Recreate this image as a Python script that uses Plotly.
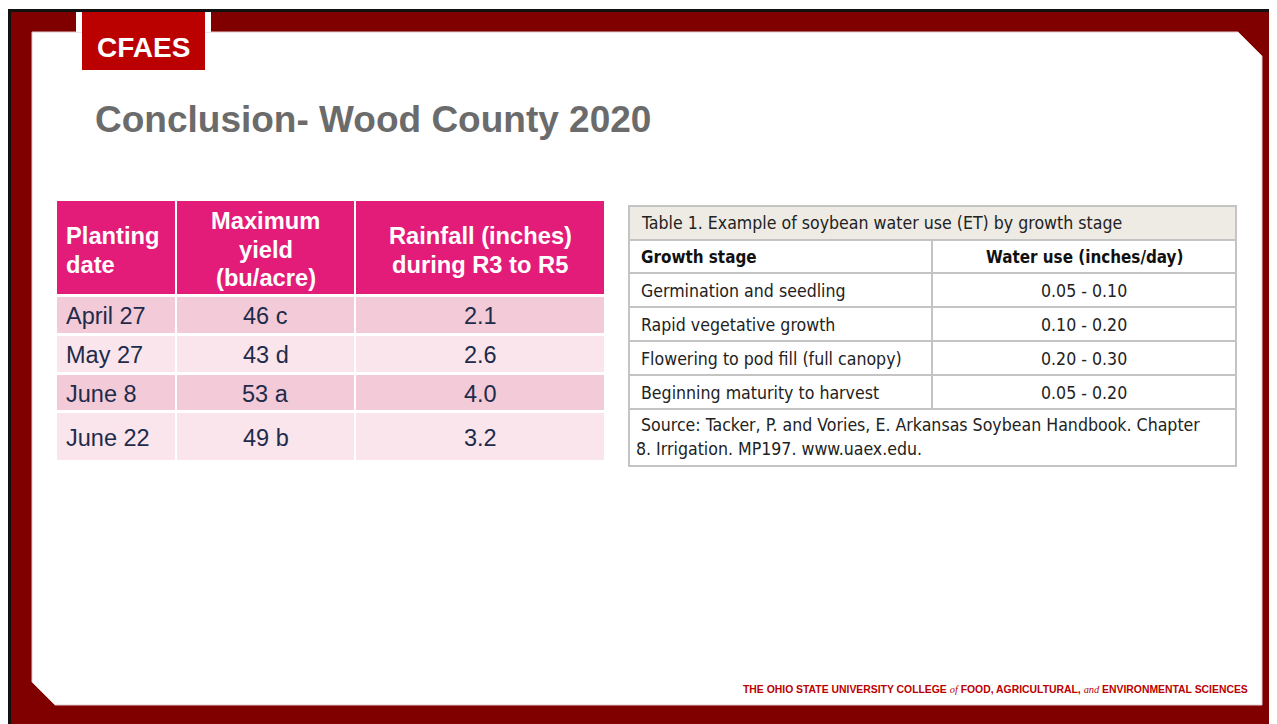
import plotly.graph_objects as go

# ---------------- data ----------------
planting_dates = ["April 27", "May 27", "June 8", "June 22"]
max_yield = ["46 c", "43 d", "53 a", "49 b"]
rainfall = ["2.1", "2.6", "4.0", "3.2"]
left_headers = [["Planting", "date"], ["Maximum", "yield", "(bu/acre)"], ["Rainfall (inches)", "during R3 to R5"]]

table_title = "Table 1. Example of soybean water use (ET) by growth stage"
right_headers = ["Growth stage", "Water use (inches/day)"]
growth_stages = ["Germination and seedling", "Rapid vegetative growth",
                 "Flowering to pod fill (full canopy)", "Beginning maturity to harvest"]
water_use = ["0.05 - 0.10", "0.10 - 0.20", "0.20 - 0.30", "0.05 - 0.20"]
source_lines = ["Source: Tacker, P. and Vories, E. Arkansas Soybean Handbook. Chapter",
                "8. Irrigation. MP197. www.uaex.edu."]

slide_title = "Conclusion- Wood County 2020"
logo_text = "CFAES"

# ---------------- styles ----------------
W, H = 1277, 724
OFF = 8  # page body margin: the figure div starts at (8, 8)
DARK_RED = "#800000"
SCARLET = "#BB0000"
MAGENTA = "#E31C79"
ROW_A = "#F3CAD7"
ROW_B = "#F9E5EB"
NAVY = "#1E2B4B"
GREY_TITLE = "#6B6B6B"
ARIAL = "Liberation Sans, Arial, sans-serif"
NARROW = "Arial Narrow, DejaVu Sans Condensed, sans-serif"
NARROW_SIZE = 17.6
NARROW_BOLD_SIZE = 16.9

shapes = []
annots = []


def rect(x0, y0, x1, y1, fill, line=None, lw=0, layer="below"):
    shapes.append(dict(type="rect", xref="x", yref="y", x0=x0, y0=y0, x1=x1, y1=y1,
                       fillcolor=fill, line=dict(color=line or fill, width=lw), layer=layer))


def text(x, y, s, size, color, family=ARIAL, anchor="left", bold=False):
    annots.append(dict(x=x, y=y, xref="x", yref="y", text=("<b>%s</b>" % s) if bold else s,
                       showarrow=False, xanchor=anchor, yanchor="middle",
                       font=dict(size=size, color=color, family=family)))


# ---------------- frame ----------------
rect(8, 9, W, H, "#111111")
rect(11, 12, W, H, DARK_RED)
shapes.append(dict(type="path", xref="x", yref="y",
                   path="M32,32 L1238,32 L1262,56 L1262,705 L55,705 L32,682 Z",
                   fillcolor="white", line=dict(color="#e0cccc", width=1), layer="below"))
rect(76, 12, 211, 32, "white")
rect(82, 12, 205, 70, SCARLET)
text(143.5, 47, logo_text, 28, "white", bold=True, anchor="center")

text(93, 119, slide_title, 37, GREY_TITLE, bold=True)

# ---------------- left table ----------------
col_l = [57, 177, 356]
col_r = [175, 354, 604]
row_t = [297, 336, 375, 413]
row_b = [333, 372, 410, 460]
head_t, head_b = 201, 294

for j in range(3):
    rect(col_l[j], head_t, col_r[j], head_b, MAGENTA)
header_line_y = [[236, 265], [221, 250, 278], [236, 265]]
for j, lines in enumerate(left_headers):
    for k, ln in enumerate(lines):
        if j == 0:
            text(64, header_line_y[j][k], ln, 23.7, "white", bold=True)
        else:
            text((col_l[j] + col_r[j]) / 2, header_line_y[j][k], ln, 23.7, "white",
                 bold=True, anchor="center")

for i in range(len(planting_dates)):
    fill = ROW_A if i % 2 == 0 else ROW_B
    for j in range(3):
        rect(col_l[j], row_t[i], col_r[j], row_b[i], fill)
    yc = (row_t[i] + row_b[i]) / 2 + 1
    text(64, yc, planting_dates[i], 23.5, NAVY)
    text((col_l[1] + col_r[1]) / 2, yc, max_yield[i], 23.5, NAVY, anchor="center")
    text((col_l[2] + col_r[2]) / 2, yc, rainfall[i], 23.5, NAVY, anchor="center")

# ---------------- right table ----------------
BORDER = "#C4C4C4"
tx0, tx1 = 629, 1236
ty0, ty1 = 206, 466
title_b = 240
rows_edges = [240, 273, 307, 341, 375, 409]
div_x = 932

rect(tx0, ty0, tx1, title_b, "#EDEBE4")
rect(tx0, ty0, tx1, ty1, "rgba(0,0,0,0)", BORDER, 2, layer="above")
for y in rows_edges:
    shapes.append(dict(type="line", xref="x", yref="y", x0=tx0, x1=tx1, y0=y, y1=y,
                       line=dict(color=BORDER, width=2)))
shapes.append(dict(type="line", xref="x", yref="y", x0=div_x, x1=div_x,
                   y0=rows_edges[0], y1=rows_edges[-1], line=dict(color=BORDER, width=2)))

text(639, 223, table_title, NARROW_SIZE, "#222222", family=NARROW)
text(639, 257, right_headers[0], NARROW_BOLD_SIZE, "#111111", family=NARROW, bold=True)
text((div_x + tx1) / 2, 257, right_headers[1], NARROW_BOLD_SIZE, "#111111", family=NARROW,
     bold=True, anchor="center")
for i in range(len(growth_stages)):
    yc = (rows_edges[i + 1] + rows_edges[i + 2]) / 2 + 1
    text(639, yc, growth_stages[i], NARROW_SIZE, "#222222", family=NARROW)
    text((div_x + tx1) / 2, yc, water_use[i], NARROW_SIZE, "#222222", family=NARROW,
         anchor="center")
text(639, 425, source_lines[0], NARROW_SIZE, "#222222", family=NARROW)
text(634, 449, source_lines[1], NARROW_SIZE, "#222222", family=NARROW)

# ---------------- footer ----------------
serif_i = '<i><span style="font-family:Liberation Serif, serif">%s</span></i>'
footer = ("<b>THE OHIO STATE UNIVERSITY COLLEGE </b>" + serif_i % "of" +
          "<b> FOOD, AGRICULTURAL, </b>" + serif_i % "and" +
          "<b> ENVIRONMENTAL SCIENCES</b>")
annots.append(dict(x=1250, y=689, xref="x", yref="y", text=footer, showarrow=False,
                   xanchor="right", yanchor="middle",
                   font=dict(size=10.4, color=SCARLET, family=ARIAL)))

fig = go.Figure(go.Scatter(x=[], y=[], hoverinfo="skip", showlegend=False))
fig.update_layout(
    width=W - OFF, height=H - OFF, margin=dict(l=0, r=0, t=0, b=0),
    paper_bgcolor="white", plot_bgcolor="white",
    xaxis=dict(range=[OFF, W], visible=False, fixedrange=True),
    yaxis=dict(range=[H, OFF], visible=False, fixedrange=True),
    shapes=shapes, annotations=annots, showlegend=False,
)
fig.write_html("out.html")
